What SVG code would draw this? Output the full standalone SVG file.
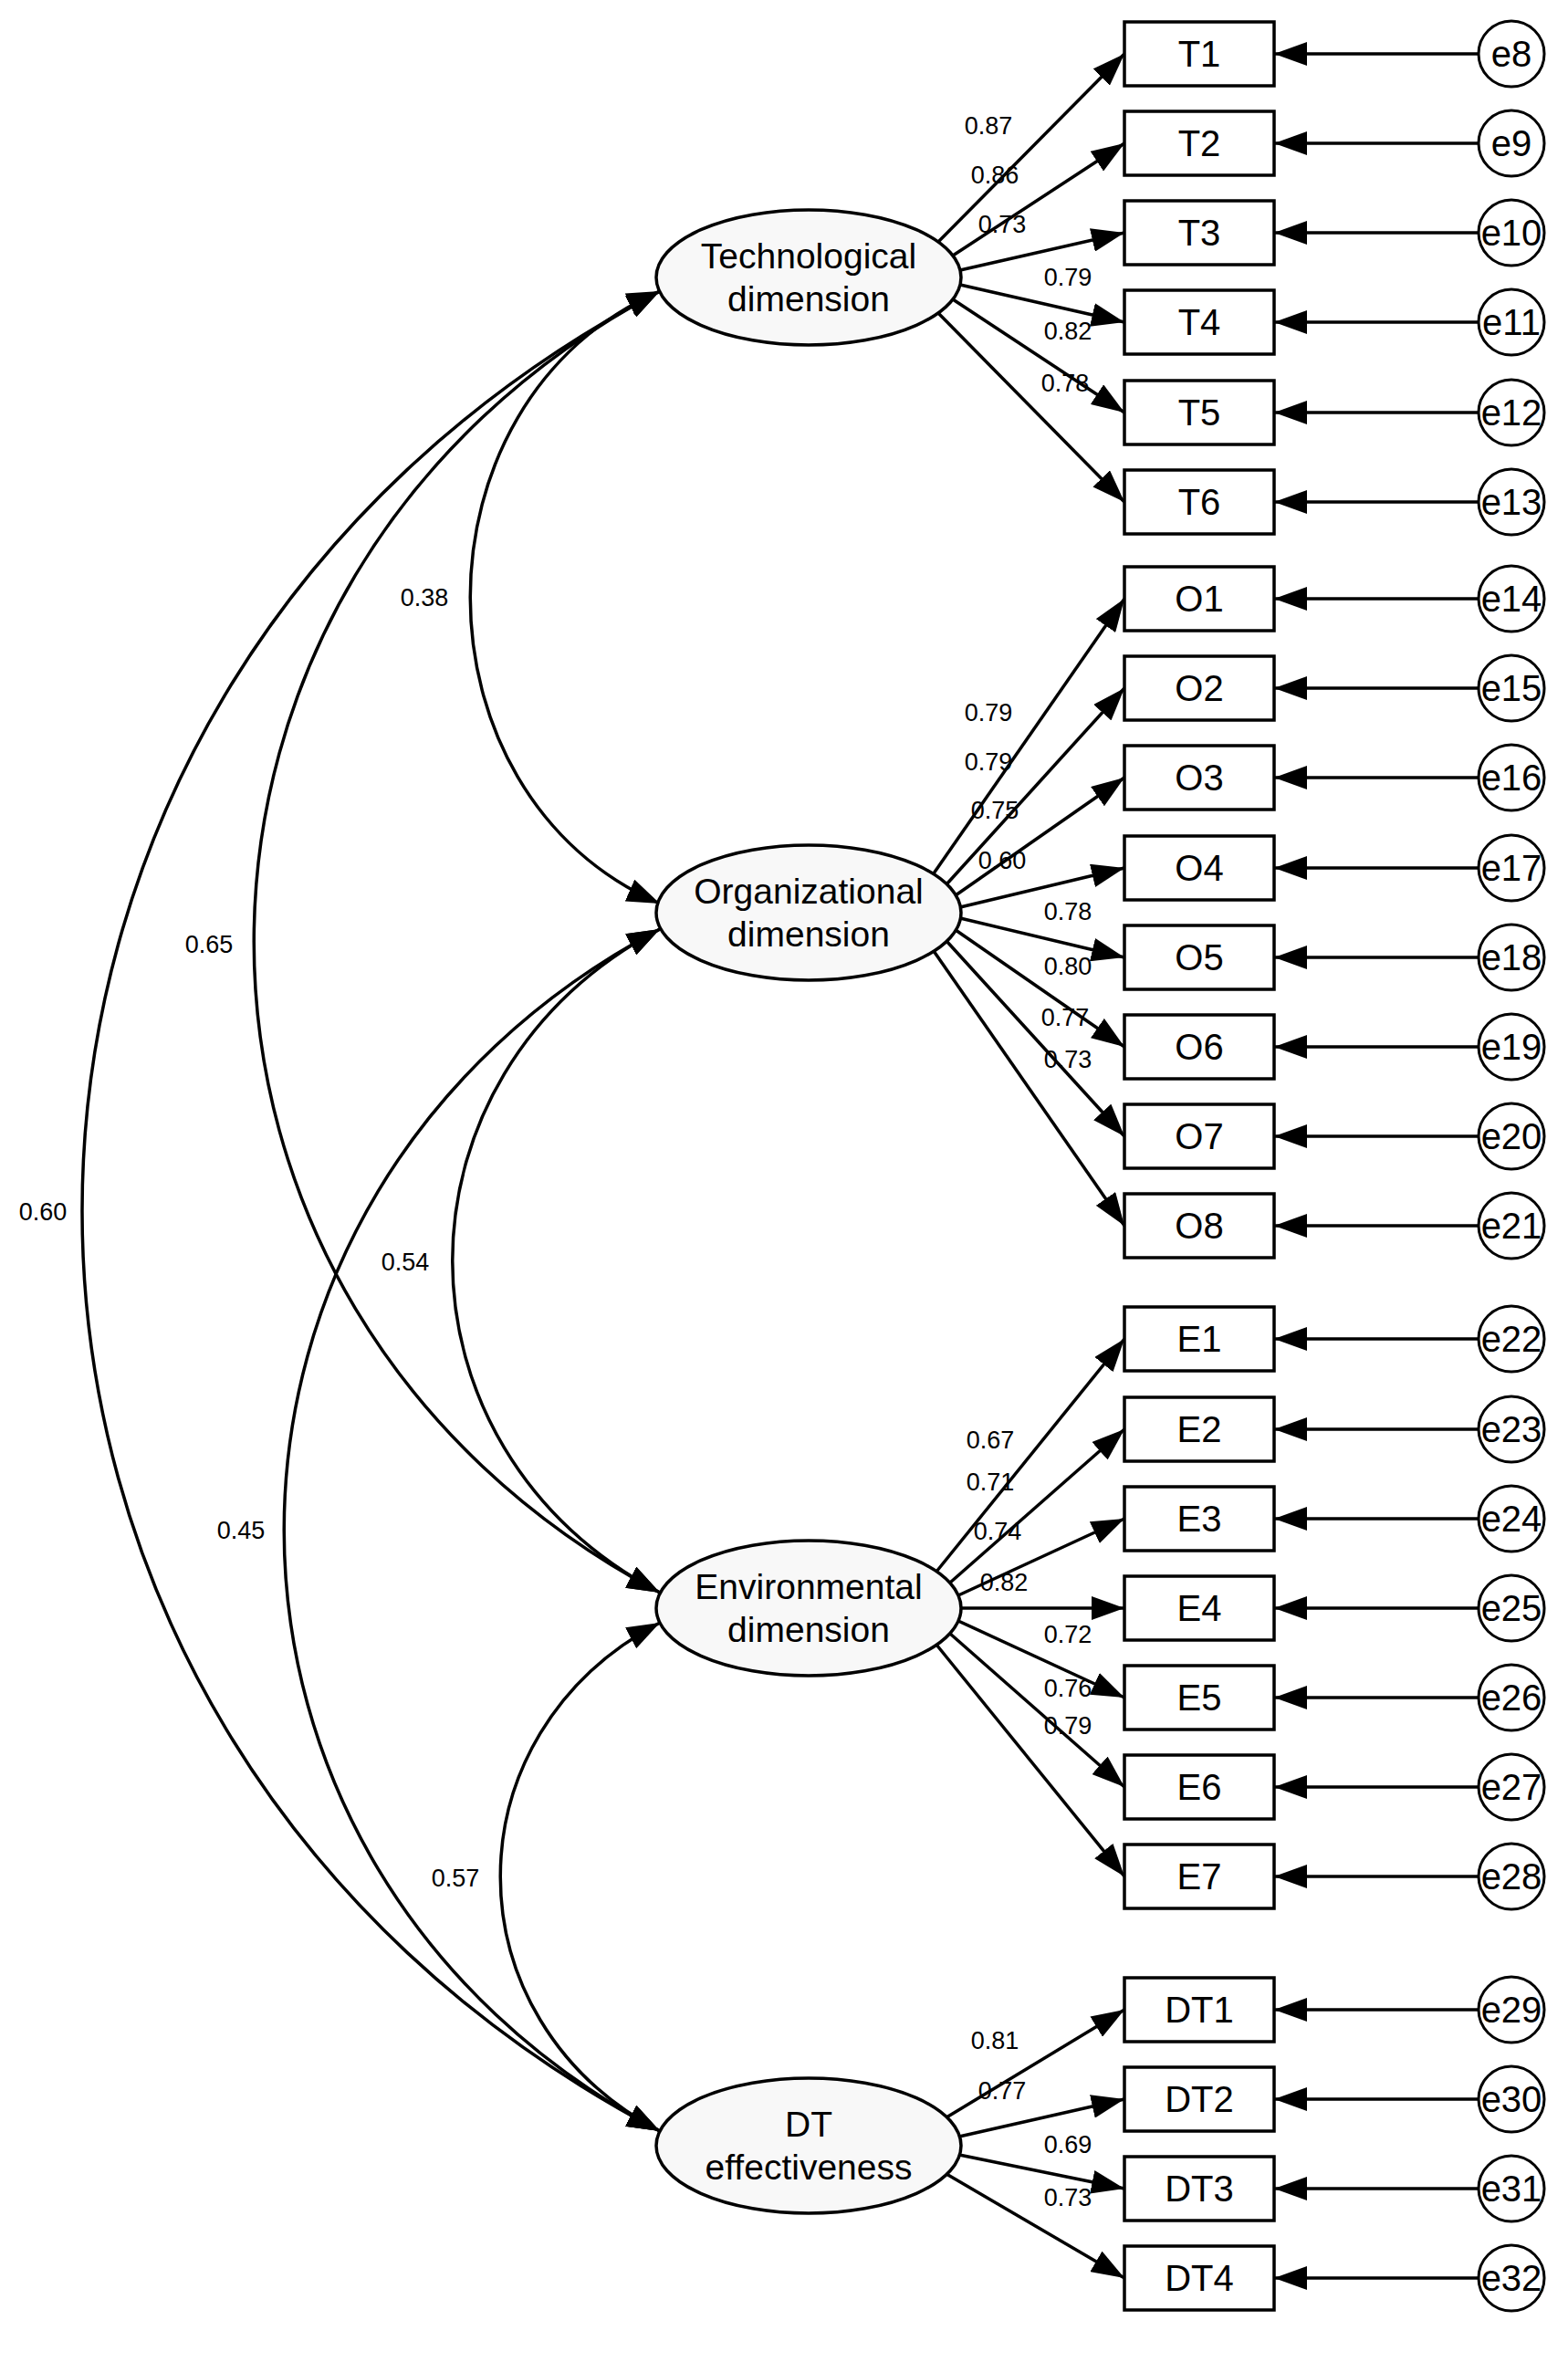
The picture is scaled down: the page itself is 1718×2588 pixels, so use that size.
<svg xmlns="http://www.w3.org/2000/svg" width="1718" height="2588" viewBox="0 0 1718 2588">
<style>
text{font-family:"Liberation Sans",Arial,sans-serif;fill:#000}
.box{fill:#fff;stroke:#000;stroke-width:3.5}
.lat{fill:#f8f8f8;stroke:#000;stroke-width:3.5}
.err{fill:#fff;stroke:#000;stroke-width:3}
.bt{font-size:40px;text-anchor:middle}
.et{font-size:40px;text-anchor:middle}
.lt{font-size:39px;text-anchor:middle}
.w{font-size:27px;text-anchor:middle}
.c{fill:none;stroke:#000;stroke-width:3.5;marker-end:url(#ah)}
.cv{fill:none;stroke:#000;stroke-width:3.5;marker-end:url(#ah);marker-start:url(#ah)}
</style>
<defs>
<marker id="ah" viewBox="0 0 36 26" refX="36" refY="13" markerWidth="36" markerHeight="26" markerUnits="userSpaceOnUse" orient="auto-start-reverse"><path d="M0,0 L36,13 L0,26 Z" fill="#000"/></marker>
</defs>
<g id="connectors">
<path class="c" d="M1028,265 L1232,59"/><path class="c" d="M1044,280 L1232,157"/><path class="c" d="M1052,296 L1232,255"/><path class="c" d="M1052,312 L1232,353"/><path class="c" d="M1044,328 L1232,452"/><path class="c" d="M1028,343 L1232,550"/>
<path class="c" d="M1023,957 L1232,656"/><path class="c" d="M1037,969 L1232,754"/><path class="c" d="M1047,981 L1232,852"/><path class="c" d="M1052,994 L1232,951"/><path class="c" d="M1052,1006 L1232,1049"/><path class="c" d="M1047,1019 L1232,1147"/><path class="c" d="M1037,1031 L1232,1245"/><path class="c" d="M1023,1042 L1232,1343"/>
<path class="c" d="M1026,1722 L1232,1467"/><path class="c" d="M1041,1734 L1232,1566"/><path class="c" d="M1050,1748 L1232,1664"/><path class="c" d="M1053,1762 L1232,1762"/><path class="c" d="M1050,1776 L1232,1860"/><path class="c" d="M1041,1790 L1232,1958"/><path class="c" d="M1026,1802 L1232,2056"/>
<path class="c" d="M1037,2320 L1232,2202"/><path class="c" d="M1051,2341 L1232,2300"/><path class="c" d="M1051,2361 L1232,2398"/><path class="c" d="M1037,2382 L1232,2496"/>
<path class="c" d="M1620,59 L1396,59"/><path class="c" d="M1620,157 L1396,157"/><path class="c" d="M1620,255 L1396,255"/><path class="c" d="M1620,353 L1396,353"/><path class="c" d="M1620,452 L1396,452"/><path class="c" d="M1620,550 L1396,550"/>
<path class="c" d="M1620,656 L1396,656"/><path class="c" d="M1620,754 L1396,754"/><path class="c" d="M1620,852 L1396,852"/><path class="c" d="M1620,951 L1396,951"/><path class="c" d="M1620,1049 L1396,1049"/><path class="c" d="M1620,1147 L1396,1147"/><path class="c" d="M1620,1245 L1396,1245"/><path class="c" d="M1620,1343 L1396,1343"/>
<path class="c" d="M1620,1467 L1396,1467"/><path class="c" d="M1620,1566 L1396,1566"/><path class="c" d="M1620,1664 L1396,1664"/><path class="c" d="M1620,1762 L1396,1762"/><path class="c" d="M1620,1860 L1396,1860"/><path class="c" d="M1620,1958 L1396,1958"/><path class="c" d="M1620,2056 L1396,2056"/>
<path class="c" d="M1620,2202 L1396,2202"/><path class="c" d="M1620,2300 L1396,2300"/><path class="c" d="M1620,2398 L1396,2398"/><path class="c" d="M1620,2496 L1396,2496"/>
<path class="cv" d="M723,319 C446,440 446,869 723,990"/>
<path class="cv" d="M723,319 C130,633 130,1431 723,1745"/>
<path class="cv" d="M723,319 C-121,762 -121,1892 723,2335"/>
<path class="cv" d="M723,1018 C420,1178 420,1585 723,1745"/>
<path class="cv" d="M723,1018 C174,1308 174,2045 723,2335"/>
<path class="cv" d="M723,1778 C490,1900 490,2212 723,2335"/>
<g class="w">
<text x="465" y="664">0.38</text><text x="229" y="1044">0.65</text><text x="47" y="1337">0.60</text><text x="444" y="1392">0.54</text><text x="264" y="1686">0.45</text><text x="499" y="2067">0.57</text>
<text x="1083" y="147">0.87</text><text x="1090" y="201">0.86</text><text x="1098" y="255">0.73</text><text x="1170" y="313">0.79</text><text x="1170" y="372">0.82</text><text x="1167" y="429">0.78</text>
<text x="1083" y="790">0.79</text><text x="1083" y="844">0.79</text><text x="1090" y="897">0.75</text><text x="1098" y="952">0.60</text><text x="1170" y="1008">0.78</text><text x="1170" y="1068">0.80</text><text x="1167" y="1124">0.77</text><text x="1170" y="1170">0.73</text>
<text x="1085" y="1587">0.67</text><text x="1085" y="1633">0.71</text><text x="1093" y="1687">0.74</text><text x="1100" y="1743">0.82</text><text x="1170" y="1800">0.72</text><text x="1170" y="1859">0.76</text><text x="1170" y="1900">0.79</text>
<text x="1090" y="2245">0.81</text><text x="1098" y="2300">0.77</text><text x="1170" y="2359">0.69</text><text x="1170" y="2417">0.73</text>
</g>
</g>
<g id="tech"><ellipse class="lat" cx="886" cy="304" rx="167" ry="74"/><text class="lt" x="886" y="294">Technological</text><text class="lt" x="886" y="341">dimension</text></g>
<g id="org"><ellipse class="lat" cx="886" cy="1000" rx="167" ry="74"/><text class="lt" x="886" y="990">Organizational</text><text class="lt" x="886" y="1037">dimension</text></g>
<g id="env"><ellipse class="lat" cx="886" cy="1762" rx="167" ry="74"/><text class="lt" x="886" y="1752">Environmental</text><text class="lt" x="886" y="1799">dimension</text></g>
<g id="dt"><ellipse class="lat" cx="886" cy="2351" rx="167" ry="74"/><text class="lt" x="886" y="2341">DT</text><text class="lt" x="886" y="2388">effectiveness</text></g>
<g id="T1"><rect class="box" x="1232" y="24" width="164" height="70"/><text class="bt" x="1314" y="73">T1</text></g>
<g id="T2"><rect class="box" x="1232" y="122" width="164" height="70"/><text class="bt" x="1314" y="171">T2</text></g>
<g id="T3"><rect class="box" x="1232" y="220" width="164" height="70"/><text class="bt" x="1314" y="269">T3</text></g>
<g id="T4"><rect class="box" x="1232" y="318" width="164" height="70"/><text class="bt" x="1314" y="367">T4</text></g>
<g id="T5"><rect class="box" x="1232" y="417" width="164" height="70"/><text class="bt" x="1314" y="466">T5</text></g>
<g id="T6"><rect class="box" x="1232" y="515" width="164" height="70"/><text class="bt" x="1314" y="564">T6</text></g>
<g id="O1"><rect class="box" x="1232" y="621" width="164" height="70"/><text class="bt" x="1314" y="670">O1</text></g>
<g id="O2"><rect class="box" x="1232" y="719" width="164" height="70"/><text class="bt" x="1314" y="768">O2</text></g>
<g id="O3"><rect class="box" x="1232" y="817" width="164" height="70"/><text class="bt" x="1314" y="866">O3</text></g>
<g id="O4"><rect class="box" x="1232" y="916" width="164" height="70"/><text class="bt" x="1314" y="965">O4</text></g>
<g id="O5"><rect class="box" x="1232" y="1014" width="164" height="70"/><text class="bt" x="1314" y="1063">O5</text></g>
<g id="O6"><rect class="box" x="1232" y="1112" width="164" height="70"/><text class="bt" x="1314" y="1161">O6</text></g>
<g id="O7"><rect class="box" x="1232" y="1210" width="164" height="70"/><text class="bt" x="1314" y="1259">O7</text></g>
<g id="O8"><rect class="box" x="1232" y="1308" width="164" height="70"/><text class="bt" x="1314" y="1357">O8</text></g>
<g id="E1"><rect class="box" x="1232" y="1432" width="164" height="70"/><text class="bt" x="1314" y="1481">E1</text></g>
<g id="E2"><rect class="box" x="1232" y="1531" width="164" height="70"/><text class="bt" x="1314" y="1580">E2</text></g>
<g id="E3"><rect class="box" x="1232" y="1629" width="164" height="70"/><text class="bt" x="1314" y="1678">E3</text></g>
<g id="E4"><rect class="box" x="1232" y="1727" width="164" height="70"/><text class="bt" x="1314" y="1776">E4</text></g>
<g id="E5"><rect class="box" x="1232" y="1825" width="164" height="70"/><text class="bt" x="1314" y="1874">E5</text></g>
<g id="E6"><rect class="box" x="1232" y="1923" width="164" height="70"/><text class="bt" x="1314" y="1972">E6</text></g>
<g id="E7"><rect class="box" x="1232" y="2021" width="164" height="70"/><text class="bt" x="1314" y="2070">E7</text></g>
<g id="DT1"><rect class="box" x="1232" y="2167" width="164" height="70"/><text class="bt" x="1314" y="2216">DT1</text></g>
<g id="DT2"><rect class="box" x="1232" y="2265" width="164" height="70"/><text class="bt" x="1314" y="2314">DT2</text></g>
<g id="DT3"><rect class="box" x="1232" y="2363" width="164" height="70"/><text class="bt" x="1314" y="2412">DT3</text></g>
<g id="DT4"><rect class="box" x="1232" y="2461" width="164" height="70"/><text class="bt" x="1314" y="2510">DT4</text></g>
<g id="e8"><circle class="err" cx="1656" cy="59" r="36"/><text class="et" x="1656" y="73">e8</text></g>
<g id="e9"><circle class="err" cx="1656" cy="157" r="36"/><text class="et" x="1656" y="171">e9</text></g>
<g id="e10"><circle class="err" cx="1656" cy="255" r="36"/><text class="et" x="1656" y="269">e10</text></g>
<g id="e11"><circle class="err" cx="1656" cy="353" r="36"/><text class="et" x="1656" y="367">e11</text></g>
<g id="e12"><circle class="err" cx="1656" cy="452" r="36"/><text class="et" x="1656" y="466">e12</text></g>
<g id="e13"><circle class="err" cx="1656" cy="550" r="36"/><text class="et" x="1656" y="564">e13</text></g>
<g id="e14"><circle class="err" cx="1656" cy="656" r="36"/><text class="et" x="1656" y="670">e14</text></g>
<g id="e15"><circle class="err" cx="1656" cy="754" r="36"/><text class="et" x="1656" y="768">e15</text></g>
<g id="e16"><circle class="err" cx="1656" cy="852" r="36"/><text class="et" x="1656" y="866">e16</text></g>
<g id="e17"><circle class="err" cx="1656" cy="951" r="36"/><text class="et" x="1656" y="965">e17</text></g>
<g id="e18"><circle class="err" cx="1656" cy="1049" r="36"/><text class="et" x="1656" y="1063">e18</text></g>
<g id="e19"><circle class="err" cx="1656" cy="1147" r="36"/><text class="et" x="1656" y="1161">e19</text></g>
<g id="e20"><circle class="err" cx="1656" cy="1245" r="36"/><text class="et" x="1656" y="1259">e20</text></g>
<g id="e21"><circle class="err" cx="1656" cy="1343" r="36"/><text class="et" x="1656" y="1357">e21</text></g>
<g id="e22"><circle class="err" cx="1656" cy="1467" r="36"/><text class="et" x="1656" y="1481">e22</text></g>
<g id="e23"><circle class="err" cx="1656" cy="1566" r="36"/><text class="et" x="1656" y="1580">e23</text></g>
<g id="e24"><circle class="err" cx="1656" cy="1664" r="36"/><text class="et" x="1656" y="1678">e24</text></g>
<g id="e25"><circle class="err" cx="1656" cy="1762" r="36"/><text class="et" x="1656" y="1776">e25</text></g>
<g id="e26"><circle class="err" cx="1656" cy="1860" r="36"/><text class="et" x="1656" y="1874">e26</text></g>
<g id="e27"><circle class="err" cx="1656" cy="1958" r="36"/><text class="et" x="1656" y="1972">e27</text></g>
<g id="e28"><circle class="err" cx="1656" cy="2056" r="36"/><text class="et" x="1656" y="2070">e28</text></g>
<g id="e29"><circle class="err" cx="1656" cy="2202" r="36"/><text class="et" x="1656" y="2216">e29</text></g>
<g id="e30"><circle class="err" cx="1656" cy="2300" r="36"/><text class="et" x="1656" y="2314">e30</text></g>
<g id="e31"><circle class="err" cx="1656" cy="2398" r="36"/><text class="et" x="1656" y="2412">e31</text></g>
<g id="e32"><circle class="err" cx="1656" cy="2496" r="36"/><text class="et" x="1656" y="2510">e32</text></g>
</svg>
